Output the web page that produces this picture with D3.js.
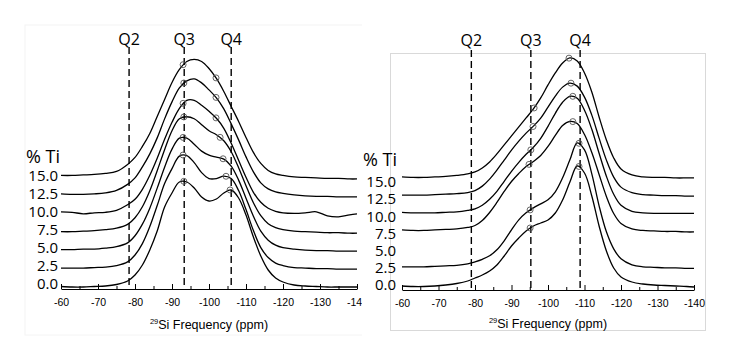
<!DOCTYPE html>
<html><head><meta charset="utf-8">
<script src="https://cdn.jsdelivr.net/npm/d3@7"></script>
<style>body{margin:0;background:#fff}svg{display:block}</style>
</head><body>
<svg id="c" width="732" height="361"></svg>
<script>
// ---------- DATA ----------
const ppm = [-60,-63,-66,-69,-72,-75,-78,-80,-82,-84,-86,-88,-90,-92,-94,-96,-98,-100,-102,-104,-106,-108,-110,-112,-114,-116,-118,-120,-123,-126,-129,-132,-135,-138,-140];
const tiLabels = ["0.0","2.5","5.0","7.5","10.0","12.5","15.0"];
const xTicks = [-60,-70,-80,-90,-100,-110,-120,-130,-140];
const xMinor = [-65,-75,-85,-95,-105,-115,-125,-135];
const qNames = ["Q2","Q3","Q4"];

// left panel
const leftTi = [0,2.5,5,7.5,10,12.5,15];
const leftTi00 = [0.5,0,0,0.5,1,2.5,6,12,22,37,56,80,94,105,105,99,90,86,88,94,97,89,72,50,31,17,9,5,2,1,0.5,0,0,0,0];
const leftTi25 = [0.5,0.5,0.5,1,1.5,3,6.7,13.6,25,42,63,85,100,112.5,113,106,96,90,90,92.5,90,78,59,38,21,11,5.5,3,1,0.5,0,0,-0.5,-0.5,-0.5];
const leftTi50 = [0.5,0.5,1,1,2,3.5,7.3,14.4,26,42,62,83,101,112,112,106,99,95,93,91,84,70,52,34,19,10,5,2.5,1,0,-0.5,-0.5,-1,-1,-1];
const leftTi75 = [0,0,0.5,1,2,3.5,7.3,14,25,41,61,82,101,113,115,113,107,101,97,91,80,64,46,29,16,8,4,2,0.5,0,-0.5,-1,-1,-1.5,-1.5];
const leftTi100 = [1.5,1,-0.5,0.5,1,3,8.5,14,24,38,55,74,91,105,113,113,108,102,95,85,70,53,36,21,11,5,2,0.5,0,0.5,1.5,-2.5,-3.5,-1.5,-0.5];
const leftTi125 = [1,0.5,0.5,1,2,4.5,10.5,17,28,41,57,76,93,107,114,116,112,105,97,86,71,55,38,23,12,6,3,1.5,0,-1,-1.5,-1.5,-2,-2,-2];
const leftTi150 = [1,1,1.5,2,3,5,12,19,30,43,60,77,94,107,115,117,115,108,98,85,70,55,39,24,13,6,2.5,1,-0.5,-1,-1.5,-2,-2,-2.5,-2.5];
const leftMarkA = [-93.2,-93,-93,-93.2,-93,-93.2,-93];
const leftMarkB = [-105.7,-104.6,-103.8,-103,-101.9,-101.9,-101.9];
const leftQ = [-78.4,-93.3,-106];

// right panel
const rightTi = [0,2.5,7.5,10,12.5,15];
const rightTi00 = [0,-0.5,-0.5,0,1,2.5,5,8,11,15,21,30,40,48,55,60,63,66,73,86,104,120,113,90,60,35,18,9,4,2,1,0.5,0,-0.5,-1];
const rightTi25 = [1,1,1,1.5,2,2.5,4,6,8.5,12,18,27,38,48,55,60,64,68,76,90,108,125,118,94,62,36,19,9,3,1,0.5,0,0,-0.5,-0.5];
const rightTi75 = [1.5,1,1,1.5,2,2.5,4,6,11,19,29,40,50,58,65,70,76,85,96,106,110,108,97,79,57,35,18,8,2.5,1,0.5,0,0,-0.5,-0.5];
const rightTi100 = [1,0.5,0.5,0.5,1,1.5,3,4.5,8,14,22,32,42,51,59,66,75,87,100,111,117,115,103,84,60,37,19,8,2,0.5,0,0,0,0,0];
const rightTi125 = [0,0,0,0.5,1,1.5,2.5,4.5,9,16,25,35,45,54,62,69,77,88,99,108,112,109,98,80,57,35,18,8,2.5,0.5,0,-0.5,-0.5,-1,-1];
const rightTi150 = [0,-0.5,-0.5,0,0.5,1.5,3,5,9,15,23,32,41,50,59,68,79,92,104,114,119,116,104,85,60,37,19,8,2,0,-0.5,-0.5,-1,-1,-1];
const rightMarkA = [-95.1,-95.1,-94.8,-95.3,-95.9,-96.2];
const rightMarkB = [-108.5,-108.5,-106.8,-106.8,-106.3,-105.75];
const rightQ = [-79,-95.3,-108.8];

// ---------- DRAW ----------
const svg = d3.select('#c');
const defs = svg.append('defs');
defs.append('clipPath').attr('id','clipL').append('rect').attr('x',0).attr('y',0).attr('width',362).attr('height',361);

const sansFont = "'Open Sans', 'Noto Sans', sans-serif";
const axisFont = "'Liberation Sans', Arial, sans-serif";

function yOnPath(node, xt){
  let lo = 0, hi = node.getTotalLength();
  for (let i=0;i<40;i++){
    const mid=(lo+hi)/2; const p=node.getPointAtLength(mid);
    if (p.x < xt) lo = mid; else hi = mid;
  }
  return node.getPointAtLength((lo+hi)/2).y;
}

function panel(cfg){
  const g = svg.append('g');
  if (cfg.clip) g.attr('clip-path','url(#'+cfg.clip+')');
  if (cfg.frame) g.append('rect').attr('x',cfg.frame[0]).attr('y',cfg.frame[1])
      .attr('width',cfg.frame[2]).attr('height',cfg.frame[3])
      .attr('fill','none').attr('stroke',cfg.frameColor).attr('stroke-width',1);

  const x = d3.scaleLinear().domain([-60,-140]).range(cfg.xr);
  const y = d3.scaleLinear().domain([0,240]).range([cfg.base0, cfg.base0-240]);

  // Q dashed lines + labels
  cfg.q.forEach((q,i)=>{
    g.append('line').attr('x1',x(q)).attr('x2',x(q)).attr('y1',cfg.qTop).attr('y2',cfg.axisY)
      .attr('stroke','#000').attr('stroke-width',1.4).attr('stroke-dasharray','7,4');
    g.append('text').attr('x',x(q)).attr('y',cfg.qTextY).attr('text-anchor','middle')
      .attr('font-family',sansFont).attr('font-size',16).attr('fill','#000').text(qNames[i]);
  });

  // traces
  const line = d3.line().curve(d3.curveCatmullRom.alpha(0.5));
  cfg.ti.forEach((t,k)=>{
    const vals = cfg.series[k];
    const pts = ppm.map((p,i)=>[x(p), y(t*cfg.step + vals[i])]);
    const path = g.append('path').attr('d', line(pts)).attr('fill','none')
      .attr('stroke','#000').attr('stroke-width',1.3);
    const node = path.node();
    [cfg.markA[k], cfg.markB[k]].forEach(mp=>{
      const xx = x(mp);
      g.append('circle').attr('cx',xx).attr('cy',yOnPath(node,xx)).attr('r',3)
        .attr('fill','none').attr('stroke','#555').attr('stroke-width',0.9);
    });
  });

  // Ti labels
  g.append('text').attr('x',cfg.pctX).attr('y',cfg.pctY).attr('font-family',sansFont)
    .attr('font-size',18).attr('fill','#000').text('% Ti');
  tiLabels.forEach((lab,i)=>{
    g.append('text').attr('x',cfg.labX).attr('y',cfg.lab0 - i*cfg.labStep)
      .attr('dy','0.36em').attr('text-anchor','end').attr('font-family',sansFont)
      .attr('font-size',15).attr('fill','#000').text(lab);
  });

  // axis
  const ax = g.append('g').attr('transform','translate(0,'+cfg.axisY+')');
  ax.call(d3.axisBottom(x).tickValues(xTicks).tickSizeInner(-5).tickSizeOuter(0).tickPadding(10)
      .tickFormat(d=>String(d)));
  ax.selectAll('text').attr('font-family',axisFont).attr('font-size',10.5).attr('fill','#000');
  const am = g.append('g').attr('transform','translate(0,'+cfg.axisY+')');
  am.call(d3.axisBottom(x).tickValues(xMinor).tickSizeInner(-3).tickSizeOuter(0).tickFormat(''));
  am.select('.domain').remove();

  const tt = g.append('text').attr('x',cfg.titleX).attr('y',cfg.titleY).attr('text-anchor','middle')
    .attr('font-family',axisFont).attr('font-size',12.5).attr('fill','#000');
  tt.append('tspan').attr('font-size',7.5).attr('dy','-5').text('29');
  tt.append('tspan').attr('dy','5').text('Si Frequency (ppm)');
}

panel({
  clip:'clipL', frame:[25,25,340,310], frameColor:'#f4f4f4',
  xr:[61,357], base0:287, step:7.37, axisY:289,
  ti:leftTi, series:[leftTi00,leftTi25,leftTi50,leftTi75,leftTi100,leftTi125,leftTi150],
  markA:leftMarkA, markB:leftMarkB, q:leftQ, qTop:47, qTextY:45,
  pctX:26, pctY:163, labX:58, lab0:284, labStep:18,
  titleX:209, titleY:329
});
panel({
  frame:[390.5,53.5,315,277], frameColor:'#d9d9d9',
  xr:[402,694], base0:286, step:7.27, axisY:290,
  ti:rightTi, series:[rightTi00,rightTi25,rightTi75,rightTi100,rightTi125,rightTi150],
  markA:rightMarkA, markB:rightMarkB, q:rightQ, qTop:50, qTextY:46,
  pctX:363, pctY:166, labX:396, lab0:285, labStep:17.2,
  titleX:548, titleY:328
});
</script>
</body></html>
